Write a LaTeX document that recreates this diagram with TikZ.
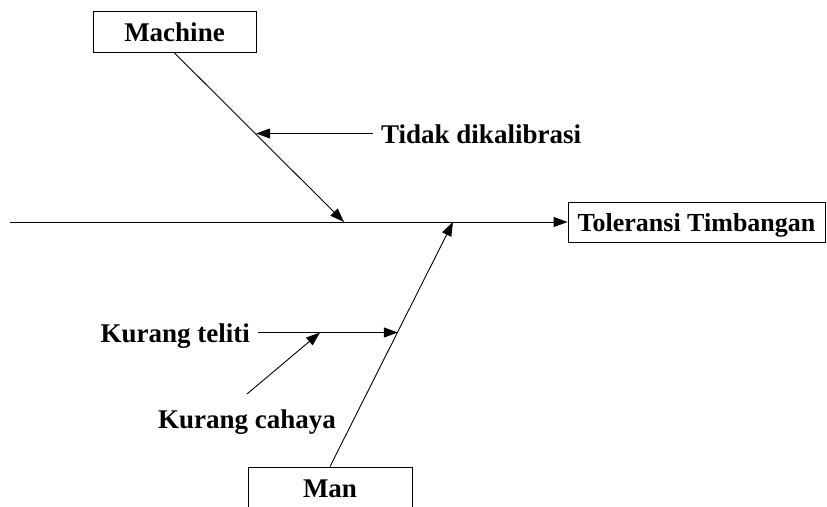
\documentclass[tikz,border=0pt]{standalone}
\usepackage{fontspec}
\setmainfont{Liberation Serif}
\usetikzlibrary{arrows.meta,calc}
\begin{document}
\begin{tikzpicture}[x=1pt,y=-1pt,
  big/.style={font=\fontsize{27}{30}\selectfont\bfseries},
  lbl/.style={big, inner sep=0pt, text height=19pt, text depth=0pt},
  box/.style={draw, line width=0.9pt, big, inner sep=0pt, text height=19pt, text depth=0pt},
  arr/.style={-{Triangle[length=14pt,width=10pt]}, line width=0.9pt}]
\useasboundingbox (0,0) rectangle (827,506);

% effect box and spine
\node[box, minimum width=257pt, minimum height=40pt,
      font=\fontsize{26}{30}\selectfont\bfseries] (tol) at (696.5,222) {Toleransi Timbangan};
\coordinate (tail) at (10,222);
\draw[arr] (tail) -- (tol.west);

% cause categories
\node[box, minimum width=163pt, minimum height=41pt] (machine) at (174.5,32) {Machine};
\node[box, minimum width=164pt, minimum height=41pt] (man) at (330,487.5) {Man};

% main bones
\coordinate (mj) at (344,222);
\coordinate (nj) at (453,222);
\draw[arr] (machine.south) -- (mj);
\draw[arr] (man.north) -- (nj);

% Machine cause
\node[lbl, anchor=base west] (tidak) at (381,143) {Tidak dikalibrasi};
\coordinate (mk) at ($(machine.south)!0.482!(mj)$);
\draw[arr] ([xshift=-8pt]tidak.west) -- (tidak.west -| mk);

% Man causes
\node[lbl, anchor=base east] (kt) at (250,342) {Kurang teliti};
\coordinate (mt) at ($(man.north)!0.551!(nj)$);
\draw[arr] ([xshift=8pt]kt.east) -- (kt.east -| mt);

\node[lbl, anchor=base west] (kc) at (158,428) {Kurang cahaya};
\coordinate (kcs) at (247,394);
\coordinate (kcj) at (320,332.5);
\draw[arr] (kcs) -- (kcj);
\end{tikzpicture}
\end{document}
